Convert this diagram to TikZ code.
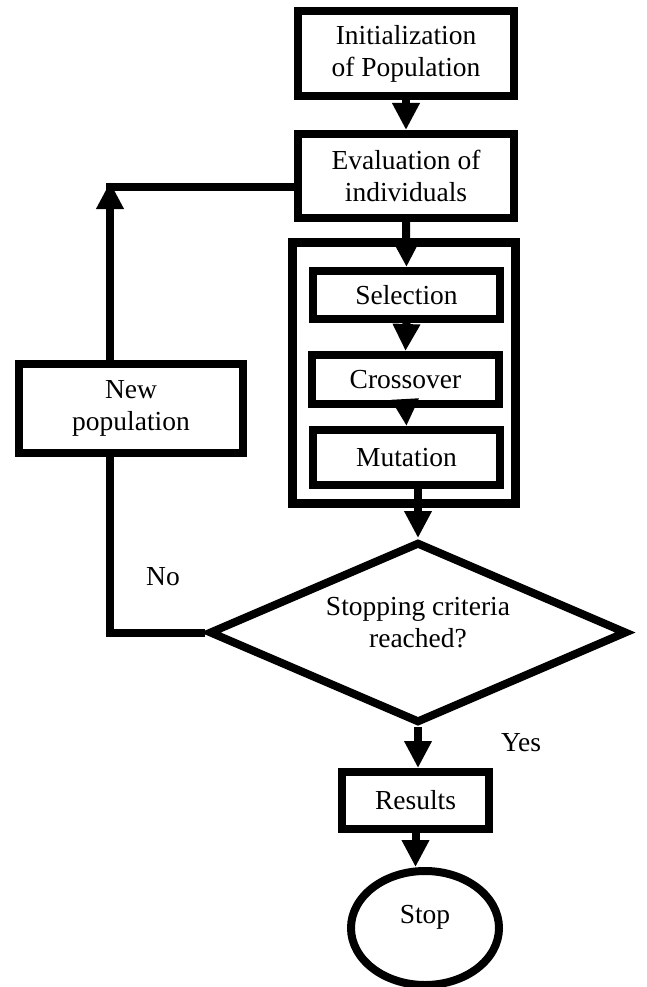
\documentclass[tikz,border=0pt]{standalone}
\usepackage{fontspec}
\setmainfont{Liberation Serif}
\usetikzlibrary{arrows.meta,shapes.geometric,calc}
\begin{document}
\begin{tikzpicture}[x=1pt,y=-1pt,
  every node/.style={font=\fontsize{27.5}{32}\selectfont, align=center, inner sep=0pt},
  box/.style={draw=black, line width=8pt, fill=white, rectangle},
  bigbox/.style={draw=black, line width=9pt, rectangle},
  dec/.style={draw=black, line width=8pt, diamond, fill=white},
  term/.style={draw=black, line width=8pt, ellipse, fill=white},
  conn/.style={line width=8pt, draw=black},
  arr/.style={line width=8pt, draw=black, -{Triangle[width=26pt,length=27pt]}},
  lbl/.style={font=\fontsize{27.5}{32}\selectfont}]
\useasboundingbox (0,0) rectangle (646,987);
\node[bigbox, minimum width=223pt, minimum height=261pt] (grp) at (404,373) {};
\node[box, minimum width=216pt, minimum height=85pt] (init) at (406,53.5) {Initialization\\of Population};
\node[box, minimum width=216pt, minimum height=84pt] (eval) at (406,176) {Evaluation of\\individuals};
\node[box, minimum width=187pt, minimum height=48pt] (sel) at (406.5,295) {Selection};
\node[box, minimum width=187pt, minimum height=49pt] (cross) at (405.5,379.5) {Crossover};
\node[box, minimum width=187pt, minimum height=55pt] (mut) at (406.5,457.5) {Mutation};
\node[dec, minimum width=418pt, minimum height=181pt] (dia) at (418,632.5) {};
\node at (418,623) {Stopping criteria\\reached?};
\node[box, minimum width=224pt, minimum height=89pt] (np) at (131,408.5) {New\\population};
\node[box, minimum width=147pt, minimum height=57pt] (res) at (415.5,800.5) {Results};
\node[term, minimum width=148pt, minimum height=114pt] (stop) at (425,928) {};
\node at (425,917) {Stop};
\node[lbl] (no) at (163,577) {No};
\node[lbl] (yes) at (521,743) {Yes};
\coordinate (tipc) at (110,182);
\coordinate (botc) at (110,632.5);
% connectors
\draw[arr] (init.south) -- (eval.north);
\draw[arr] (eval.south) -- (sel.north);
\draw[arr] (sel.south) -- (cross.north);
\draw[arr] (cross.south) -- (mut.north);
\draw[arr] (mut.south -| dia.north) -- (dia.north);
\draw[arr] (dia.south) -- (dia.south |- res.north);
\draw[arr] (res.south) -- (res.south |- stop.north);
\draw[conn] (dia.west) -- (botc) -- (botc |- np.south);
\draw[arr] (tipc |- np.north) -- (tipc);
\draw[conn] ([xshift=-4pt,yshift=-5.5pt]tipc) -- ([yshift=-5.5pt]tipc -| eval.west);
\end{tikzpicture}
\end{document}
